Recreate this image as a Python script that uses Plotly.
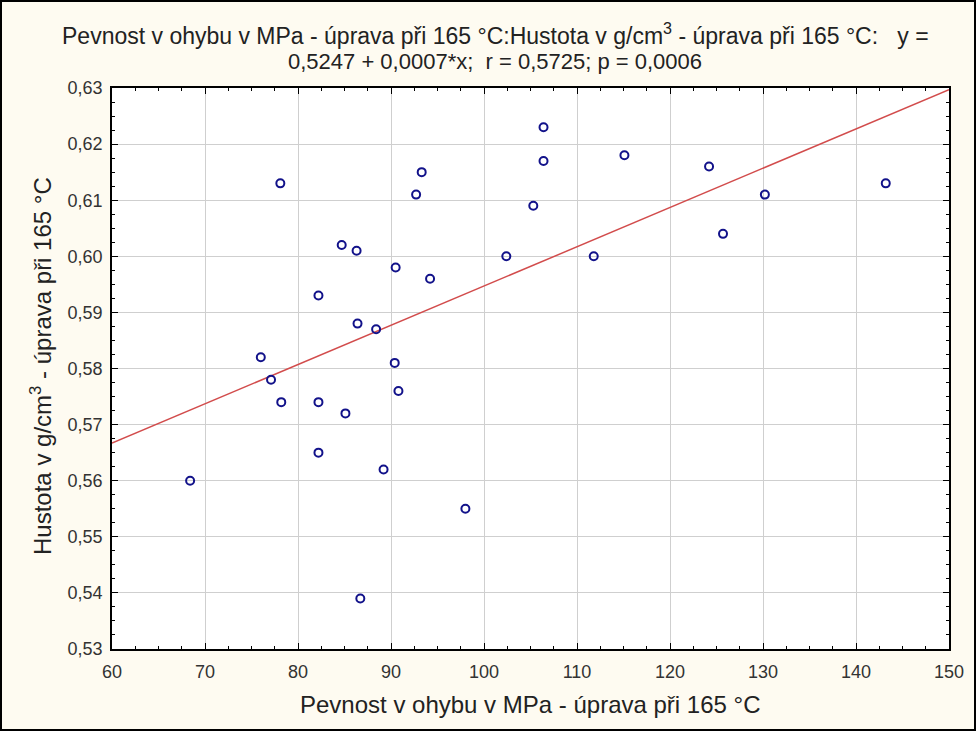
import plotly.graph_objects as go

# Flexural strength (MPa) vs. density (g/cm3), both after treatment at 165 °C
pevnost = [68.4, 76.0, 77.1, 78.1, 78.2, 82.2, 82.2, 82.2, 84.7, 85.1, 86.3, 86.4,
           86.7, 88.4, 89.2, 90.4, 90.5, 90.8, 92.7, 93.3, 94.2, 98.0, 102.4, 105.3,
           106.4, 106.4, 111.8, 115.1, 124.2, 125.7, 130.2, 143.2]
hustota = [0.560, 0.582, 0.578, 0.613, 0.574, 0.593, 0.574, 0.565, 0.602, 0.572, 0.601, 0.588,
           0.539, 0.587, 0.562, 0.581, 0.598, 0.576, 0.611, 0.615, 0.596, 0.555, 0.600, 0.609,
           0.617, 0.623, 0.600, 0.618, 0.616, 0.604, 0.611, 0.613]

# Regression coefficients as stated in the title
intercept = 0.5247
slope = 0.0007
r_value = 0.5725
p_value = 0.0006

x_range = [60, 150]
y_range = [0.53, 0.63]
x_ticks = [60, 70, 80, 90, 100, 110, 120, 130, 140, 150]
y_ticks = [0.53, 0.54, 0.55, 0.56, 0.57, 0.58, 0.59, 0.60, 0.61, 0.62, 0.63]

W, H = 976, 731
L, R, T, B = 112, 27, 88, 82
PW, PH = W - L - R, H - T - B
FONT = "Liberation Sans, Arial, sans-serif"

def fmt(v, d):
    return f"{v:.{d}f}".replace(".", ",")

def px_x(xp):
    return (xp - L) / PW

def px_y(yp):
    return (H - B - yp) / PH

title_line1 = ("Pevnost v ohybu v MPa - úprava při 165 °C:Hustota v g/cm<sup>3</sup>"
               " - úprava při 165 °C: &nbsp; y =")
title_line2 = f"{fmt(intercept, 4)} + {fmt(slope, 4)}*x;  r = {fmt(r_value, 4)}; p = {fmt(p_value, 4)}"

fig = go.Figure()

line_x = [x_range[0], x_range[1]]
line_y = [intercept + slope * v for v in line_x]
fig.add_trace(go.Scatter(
    x=line_x, y=line_y, mode="lines",
    line=dict(color="#d24c4c", width=1.5),
    hoverinfo="skip", showlegend=False,
))

fig.add_trace(go.Scatter(
    x=pevnost, y=hustota, mode="markers",
    marker=dict(symbol="circle-open", size=8, color="#12128a", line=dict(width=2, color="#12128a")),
    showlegend=False,
))

axis_common = dict(
    showline=True, linecolor="black", linewidth=1.5, mirror="allticks",
    ticks="inside", ticklen=6, tickwidth=1, tickcolor="black",
    showgrid=True, gridcolor="#cfcfcf", gridwidth=1,
    zeroline=False,
    tickfont=dict(family=FONT, size=18, color="#333333"),
)

fig.update_xaxes(
    range=x_range, tickvals=x_ticks,
    ticktext=[str(v) for v in x_ticks],
    ticklabelstandoff=6,
    minor=dict(dtick=2.5, ticks="inside", ticklen=3, tickcolor="black", showgrid=False),
    **axis_common,
)
fig.update_yaxes(
    range=y_range, tickvals=y_ticks,
    ticktext=[fmt(v, 2) for v in y_ticks],
    ticklabelstandoff=4,
    minor=dict(dtick=0.0025, ticks="inside", ticklen=3, tickcolor="black", showgrid=False),
    **axis_common,
)

# Heading lines and axis titles placed at fixed pixel positions
for text, ypx, size in [(title_line1, 34, 23), (title_line2, 62, 22)]:
    fig.add_annotation(
        text=text, xref="paper", yref="paper",
        x=px_x(495), y=px_y(ypx),
        xanchor="center", yanchor="middle", showarrow=False,
        font=dict(family=FONT, size=size, color="#222222"),
    )

fig.add_annotation(
    text="Pevnost v ohybu v MPa - úprava při 165 °C", xref="paper", yref="paper",
    x=px_x(530), y=px_y(704), xanchor="center", yanchor="middle", showarrow=False,
    font=dict(family=FONT, size=24, color="#222222"),
)
fig.add_annotation(
    text="Hustota v g/cm<sup>3</sup> - úprava při 165 °C", xref="paper", yref="paper",
    x=px_x(41), y=px_y(366), xanchor="center", yanchor="middle", showarrow=False,
    textangle=-90,
    font=dict(family=FONT, size=24, color="#222222"),
)

# Black frame around the whole picture
fig.add_shape(type="rect", xref="paper", yref="paper",
              x0=px_x(1), x1=px_x(W - 1), y0=px_y(H - 1), y1=px_y(1),
              line=dict(color="black", width=2), fillcolor="rgba(0,0,0,0)", layer="above")

fig.update_layout(
    width=W, height=H,
    margin=dict(l=L, r=R, t=T, b=B),
    paper_bgcolor="#fefbf1",
    plot_bgcolor="white",
    font=dict(family=FONT),
)

fig.write_html("out.html")
